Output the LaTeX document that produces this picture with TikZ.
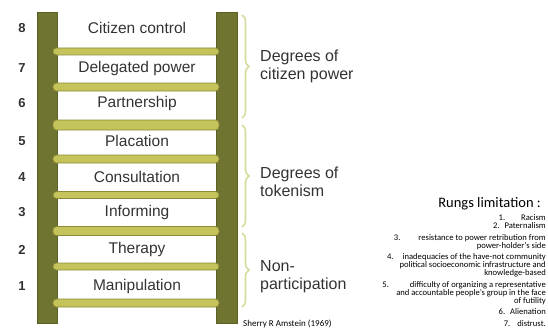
\documentclass[tikz,border=0pt]{standalone}
\usepackage{fontspec}
\setmainfont{Liberation Sans}
\newfontfamily\carlito{Carlito}
\usepackage{tikz}
\usetikzlibrary{positioning, decorations.pathreplacing}
\definecolor{railcol}{HTML}{6F7530}
\definecolor{railedge}{HTML}{5C6126}
\definecolor{rungcol}{HTML}{C4C35C}
\definecolor{rungedge}{HTML}{8C8B36}
\definecolor{bracecol}{HTML}{D6DA9C}
\definecolor{txtcol}{HTML}{333333}

\begin{document}
\begin{tikzpicture}[x=1pt,y=-1pt,
    rail/.style={fill=railcol, draw=railedge, line width=0.8pt},
    rung/.style={fill=rungcol, draw=rungedge, line width=0.7pt, rounded corners=3.5pt},
    steplbl/.style={text=txtcol, font=\fontsize{15.5}{18}\selectfont, inner sep=0pt},
    num/.style={text=txtcol, font=\bfseries\fontsize{13}{15}\selectfont, inner sep=0pt},
    brc/.style={draw=bracecol, line width=1.6pt, decorate, decoration={brace, amplitude=7pt}},
    grp/.style={text=txtcol, font=\fontsize{16}{18}\selectfont, anchor=west, align=left, inner sep=0pt},
    lim/.style={font=\carlito\fontsize{8.6}{8}\selectfont, anchor=east, align=right, inner sep=0pt}]
    \useasboundingbox (0,0) rectangle (548,329);

    % the ladder
    \draw[rail] (37,12) rectangle (57,323);
    \draw[rail] (216,12) rectangle (237,323);
    \draw[rung] (53,48) rectangle (219,55);
    \draw[rung] (53,83) rectangle (219,91);
    \draw[rung] (53,120) rectangle (219,130);
    \draw[rung] (53,155) rectangle (219,163);
    \draw[rung] (53,191.5) rectangle (219,198.5);
    \draw[rung] (53,226.5) rectangle (219,235.5);
    \draw[rung] (53,263) rectangle (219,270);
    \draw[rung] (53,299) rectangle (219,307);

    \node[steplbl] (s8) at (137,28) {Citizen control};
    \node[steplbl] (s7) at (137,68) {Delegated power};
    \node[steplbl] (s6) at (137,103) {Partnership};
    \node[steplbl] (s5) at (137,141) {Placation};
    \node[steplbl] (s4) at (137,177) {Consultation};
    \node[steplbl] (s3) at (137,212) {Informing};
    \node[steplbl] (s2) at (137,249) {Therapy};
    \node[steplbl] (s1) at (137,286) {Manipulation};

    \node[num] (n8) at (22,28) {8};
    \node[num] (n7) at (22,68) {7};
    \node[num] (n6) at (22,103) {6};
    \node[num] (n5) at (22,141) {5};
    \node[num] (n4) at (22,177) {4};
    \node[num] (n3) at (22,212) {3};
    \node[num] (n2) at (22,250) {2};
    \node[num] (n1) at (22,286) {1};

    % braces and groups
    \coordinate (b1t) at (242,15);
    \coordinate (b1b) at (242,118);
    \coordinate (b2t) at (242,125);
    \coordinate (b2b) at (242,227);
    \coordinate (b3t) at (242,233);
    \coordinate (b3b) at (242,307);
    \draw[brc] (b1t) -- (b1b);
    \draw[brc] (b2t) -- (b2b);
    \draw[brc] (b3t) -- (b3b);
    \node[grp] (g1) at (260,66) {Degrees of\\citizen power};
    \node[grp] (g2) at (260,182) {Degrees of\\tokenism};
    \node[grp] (g3) at (260,277) {Non-\\participation};

    \node[font=\carlito\fontsize{9}{10}\selectfont, anchor=west, inner sep=0pt] (src) at (243,324) {Sherry R Amstein (1969)};

    % limitations
    \node[font=\carlito\fontsize{14.5}{16}\selectfont, anchor=east, inner sep=0pt] (rl) at (541,204) {Rungs limitation :};
    \node[lim] (l1) at (546,218) {1.\hspace{16pt}Racism};
    \node[lim] (l2) at (546,226) {2.\hspace{5pt}Paternalism};
    \node[lim] (l3) at (546,242) {3.\hspace{18pt}resistance to power retribution from\\power-holder’s side};
    \node[lim] (l4) at (546,265) {4.\hspace{9pt}inadequacies of the have-not community\\political socioeconomic infrastructure and\\knowledge-based};
    \node[lim] (l5) at (546,293) {5.\hspace{21pt}difficulty of organizing a representative\\and accountable people’s group in the face\\of futility};
    \node[lim] (l6) at (546,312) {6.\hspace{5pt}Alienation};
    \node[lim] (l7) at (546,323.5) {7.\hspace{7pt}distrust.};
\end{tikzpicture}
\end{document}
